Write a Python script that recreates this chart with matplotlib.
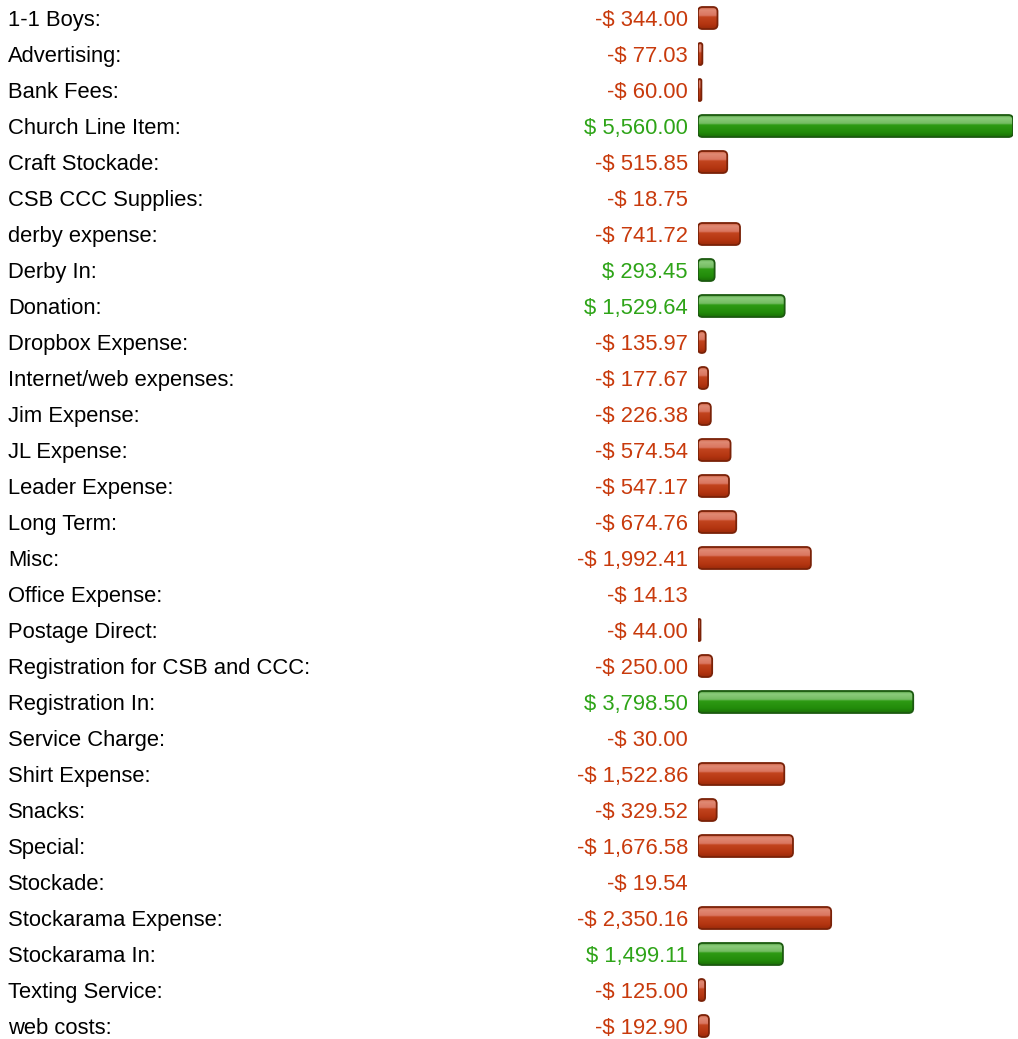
import numpy as np
import matplotlib.pyplot as plt
from matplotlib.patches import FancyBboxPatch
from matplotlib.colors import to_rgb

# Категории и суммы
labels = ["1-1 Boys:", "Advertising:", "Bank Fees:", "Church Line Item:", "Craft Stockade:",
          "CSB CCC Supplies:", "derby expense:", "Derby In:", "Donation:", "Dropbox Expense:",
          "Internet/web expenses:", "Jim Expense:", "JL Expense:", "Leader Expense:", "Long Term:",
          "Misc:", "Office Expense:", "Postage Direct:", "Registration for CSB and CCC:",
          "Registration In:", "Service Charge:", "Shirt Expense:", "Snacks:", "Special:",
          "Stockade:", "Stockarama Expense:", "Stockarama In:", "Texting Service:", "web costs:"]
amounts = [-344.00, -77.03, -60.00, 5560.00, -515.85,
           -18.75, -741.72, 293.45, 1529.64, -135.97,
           -177.67, -226.38, -574.54, -547.17, -674.76,
           -1992.41, -14.13, -44.00, -250.00,
           3798.50, -30.00, -1522.86, -329.52, -1676.58,
           -19.54, -2350.16, 1499.11, -125.00, -192.90]

W, H = 1018, 1039
plt.rcParams['font.family'] = ['Liberation Sans', 'DejaVu Sans']
fig = plt.figure(figsize=(W / 100, H / 100), dpi=100)

# ось строк: строка i в пикселе 18 + 36*i
ylim = ((H - 18) / 36, -0.5)

ax = fig.add_axes([0, 0, 1, 1])
ax.set_xlim(0, W)
ax.set_ylim(*ylim)
ax.axis('off')

x0, x1 = 698, 1013
ax2 = fig.add_axes([x0 / W, 0, (x1 - x0) / W, 1])
vmax = max(abs(v) for v in amounts)
ax2.set_xlim(0, vmax)
ax2.set_ylim(*ylim)
ax2.axis('off')

red_txt, green_txt = '#c83a0c', '#2ea418'
fs = 15.8

def money(v):
    s = f"$ {abs(v):,.2f}"
    return ("-" + s) if v < 0 else s

def gradient(stops):
    pos = [p for p, _ in stops]
    cols = np.array([to_rgb(c) for _, c in stops])
    t = np.linspace(0, 1, 64)
    g = np.stack([np.interp(t, pos, cols[:, k]) for k in range(3)], axis=1)
    return g[:, None, :]

red_grad = gradient([(0, '#c8583a'), (0.12, '#e08a74'), (0.38, '#da7660'), (0.45, '#c2441e'),
                     (0.8, '#b23410'), (1, '#9a2a0a')])
green_grad = gradient([(0, '#4a9a38'), (0.12, '#8ccc7c'), (0.38, '#74bc62'), (0.45, '#2e9a14'),
                       (0.8, '#228a0a'), (1, '#1a7006')])

px_per_val = (x1 - x0) / vmax
bar_h = 22 / 36
rad_px = 4.5

for i, (lab, v) in enumerate(zip(labels, amounts)):
    ax.text(8, i - 0.01, lab, ha='left', va='center_baseline', fontsize=fs, color='black')
    ax.text(688, i - 0.01, money(v), ha='right', va='center_baseline', fontsize=fs,
            color=red_txt if v < 0 else green_txt)
    w = abs(v)
    if w * px_per_val < 2:
        continue
    r = min(rad_px, w * px_per_val / 2)
    rx = r / px_per_val
    edge = '#7a2208' if v < 0 else '#1c5a10'
    patch = FancyBboxPatch((0, i - bar_h / 2), w, bar_h,
                           boxstyle=f"round,pad=0,rounding_size={rx}",
                           mutation_aspect=(1 / 36) / (1 / px_per_val),
                           facecolor='none', edgecolor=edge, linewidth=1.3, zorder=3)
    ax2.add_patch(patch)
    im = ax2.imshow(red_grad if v < 0 else green_grad, aspect='auto',
                    extent=(0, w, i + bar_h / 2, i - bar_h / 2), zorder=2,
                    interpolation='bilinear')
    im.set_clip_path(patch)

ax2.set_xlim(0, vmax)
ax2.set_ylim(*ylim)

fig.savefig('out.png', dpi=100)
